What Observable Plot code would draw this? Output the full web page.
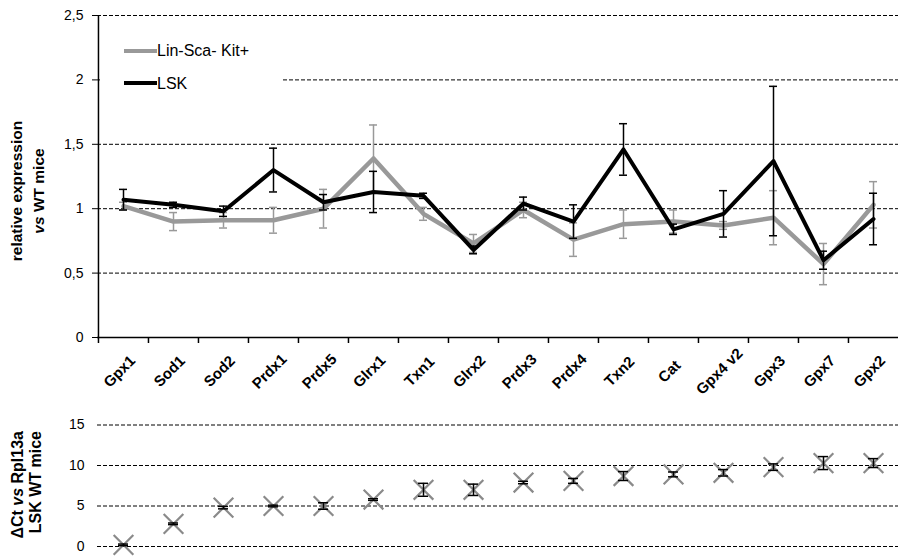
<!DOCTYPE html>
<html>
<head>
<meta charset="utf-8">
<script src="https://cdn.jsdelivr.net/npm/d3@7"></script>
<script src="https://cdn.jsdelivr.net/npm/@observablehq/plot@0.6"></script>
<style>
  html, body { margin: 0; padding: 0; background: #fff; }
  #wrap { position: relative; width: 898px; height: 557px; font-family: "Liberation Sans", Arial, sans-serif; overflow: hidden; }
  #topChart, #bottomChart { position: absolute; left: 0; }
  #topChart { top: 0; }
  #bottomChart { top: 400px; }
  #legend { position: absolute; left: 100px; top: 30px; width: 183px; height: 72px; background: #fff; }
  .sw { position: absolute; left: 24px; width: 33px; height: 4px; }
  .lt { position: absolute; left: 57px; font-size: 16px; line-height: 16px; color: #000; }
  #titles { position: absolute; left: 0; top: 0; pointer-events: none; }
</style>
</head>
<body>
<div id="wrap">
  <div id="topChart"></div>
  <div id="bottomChart"></div>
  <div id="legend">
    <div class="sw" style="top:19px;background:#999;"></div>
    <div class="lt" style="top:13px;">Lin-Sca- Kit+</div>
    <div class="sw" style="top:51px;background:#000;"></div>
    <div class="lt" style="top:46px;">LSK</div>
  </div>
  <svg id="titles" width="898" height="557" font-family="Liberation Sans, Arial, sans-serif" font-weight="bold" font-size="15.5">
    <text transform="translate(18,191) rotate(-90)" text-anchor="middle" dominant-baseline="middle">relative expression</text>
    <text transform="translate(40,191) rotate(-90)" text-anchor="middle" dominant-baseline="middle"><tspan font-style="italic">vs</tspan> WT mice</text>
    <text transform="translate(19,431) rotate(-90)" text-anchor="end" dominant-baseline="middle" font-size="16">ΔCt <tspan font-style="italic">vs</tspan> Rpl13a</text>
    <text transform="translate(37,431) rotate(-90)" text-anchor="end" dominant-baseline="middle" font-size="16">LSK WT mice</text>
  </svg>
</div>
<script>
const genes = ["Gpx1","Sod1","Sod2","Prdx1","Prdx5","Glrx1","Txn1","Glrx2","Prdx3","Prdx4","Txn2","Cat","Gpx4 v2","Gpx3","Gpx7","Gpx2"];
// Lin-Sca- Kit+ (grey)
const linVals = [1.02, 0.90, 0.91, 0.91, 1.00, 1.39, 0.96, 0.73, 0.99, 0.76, 0.88, 0.90, 0.87, 0.93, 0.57, 1.03];
const linErr  = [0.03, 0.07, 0.06, 0.10, 0.15, 0.26, 0.05, 0.07, 0.06, 0.13, 0.11, 0.09, 0.03, 0.21, 0.16, 0.18];
// LSK (black)
const lskVals = [1.07, 1.03, 0.98, 1.30, 1.05, 1.13, 1.10, 0.68, 1.04, 0.90, 1.46, 0.84, 0.96, 1.37, 0.60, 0.92];
const lskErr  = [0.08, 0.02, 0.04, 0.17, 0.06, 0.16, 0.02, 0.03, 0.05, 0.13, 0.20, 0.04, 0.18, 0.58, 0.07, 0.20];
// ΔCt vs Rpl13a, LSK WT mice
const dctVals = [0.2, 2.8, 4.8, 5.0, 5.0, 5.8, 7.0, 7.0, 7.9, 8.1, 8.7, 8.9, 9.1, 9.8, 10.3, 10.3];
const dctErr  = [0.1, 0.1, 0.15, 0.1, 0.4, 0.1, 0.8, 0.7, 0.15, 0.3, 0.55, 0.3, 0.4, 0.4, 0.8, 0.55];
const topTicks = [0, 0.5, 1, 1.5, 2, 2.5];
const bottomTicks = [0, 5, 10, 15];

const rows = (vals, errs) => genes.map((g, i) => ({gene: g, v: vals[i], lo: vals[i] - errs[i], hi: vals[i] + errs[i]}));
const lin = rows(linVals, linErr);
const lsk = rows(lskVals, lskErr);
const dct = rows(dctVals, dctErr);

const W = 898, ML = 97;
const bw = (W - ML) / genes.length;
const grey = "#999999";
const fmt = d => String(d).replace(".", ",");
const font = {fontFamily: "Liberation Sans, Arial, sans-serif", fontSize: "14px", color: "#000", background: "transparent", overflow: "visible"};

function errMarks(data, color, inset) {
  return [
    Plot.ruleX(data, {x: "gene", y1: "lo", y2: "hi", stroke: color, strokeWidth: 1.5}),
    Plot.tickY(data, {x: "gene", y: "hi", stroke: color, strokeWidth: 1.5, insetLeft: inset, insetRight: inset}),
    Plot.tickY(data, {x: "gene", y: "lo", stroke: color, strokeWidth: 1.5, insetLeft: inset, insetRight: inset})
  ];
}

const topPlot = Plot.plot({
  width: W, height: 400,
  marginLeft: ML, marginRight: 0, marginTop: 15, marginBottom: 63,
  style: font,
  x: {type: "band", domain: genes, padding: 0, label: null},
  y: {domain: [0, 2.5], label: null},
  marks: [
    Plot.ruleY(topTicks.filter(d => d > 0), {stroke: "#000", strokeWidth: 1, strokeDasharray: "4,2"}),
    Plot.axisY({ticks: topTicks, tickFormat: fmt, tickSize: 5, tickPadding: 9, fontSize: 14, label: null}),
    Plot.axisX({tickSize: 6, tickFormat: () => "", dx: -bw / 2, strokeWidth: 1.5, label: null}),
    Plot.ruleY([0], {stroke: "#000", strokeWidth: 1.5}),
    Plot.ruleX([genes[0]], {y1: 0, y2: 2.5, dx: -bw / 2, stroke: "#000", strokeWidth: 1.5}),
    Plot.text(genes, {x: d => d, frameAnchor: "bottom", dx: -4, dy: 34, rotate: -45, textAnchor: "middle", lineAnchor: "middle", fontWeight: "bold", fontSize: 15}),
    ...errMarks(lin, grey, 21),
    Plot.line(lin, {x: "gene", y: "v", stroke: grey, strokeWidth: 4.5}),
    ...errMarks(lsk, "#000", 21),
    Plot.line(lsk, {x: "gene", y: "v", stroke: "#000", strokeWidth: 4})
  ]
});
document.getElementById("topChart").appendChild(topPlot);

const bottomPlot = Plot.plot({
  width: W, height: 157,
  marginLeft: ML, marginRight: 0, marginTop: 24.5, marginBottom: 11,
  style: font,
  x: {type: "band", domain: genes, padding: 0, axis: null},
  y: {domain: [0, 15], label: null},
  marks: [
    Plot.ruleY(bottomTicks, {stroke: "#000", strokeWidth: 1, strokeDasharray: "4,2"}),
    Plot.axisY({ticks: bottomTicks, tickSize: 0, tickPadding: 13, fontSize: 14, label: null}),
    Plot.dot(dct, {x: "gene", y: "v", symbol: "times", r: 9, stroke: "#8a8a8a", strokeWidth: 2.2}),
    ...errMarks(dct, "#000", 20)
  ]
});
document.getElementById("bottomChart").appendChild(bottomPlot);
</script>
</body>
</html>
